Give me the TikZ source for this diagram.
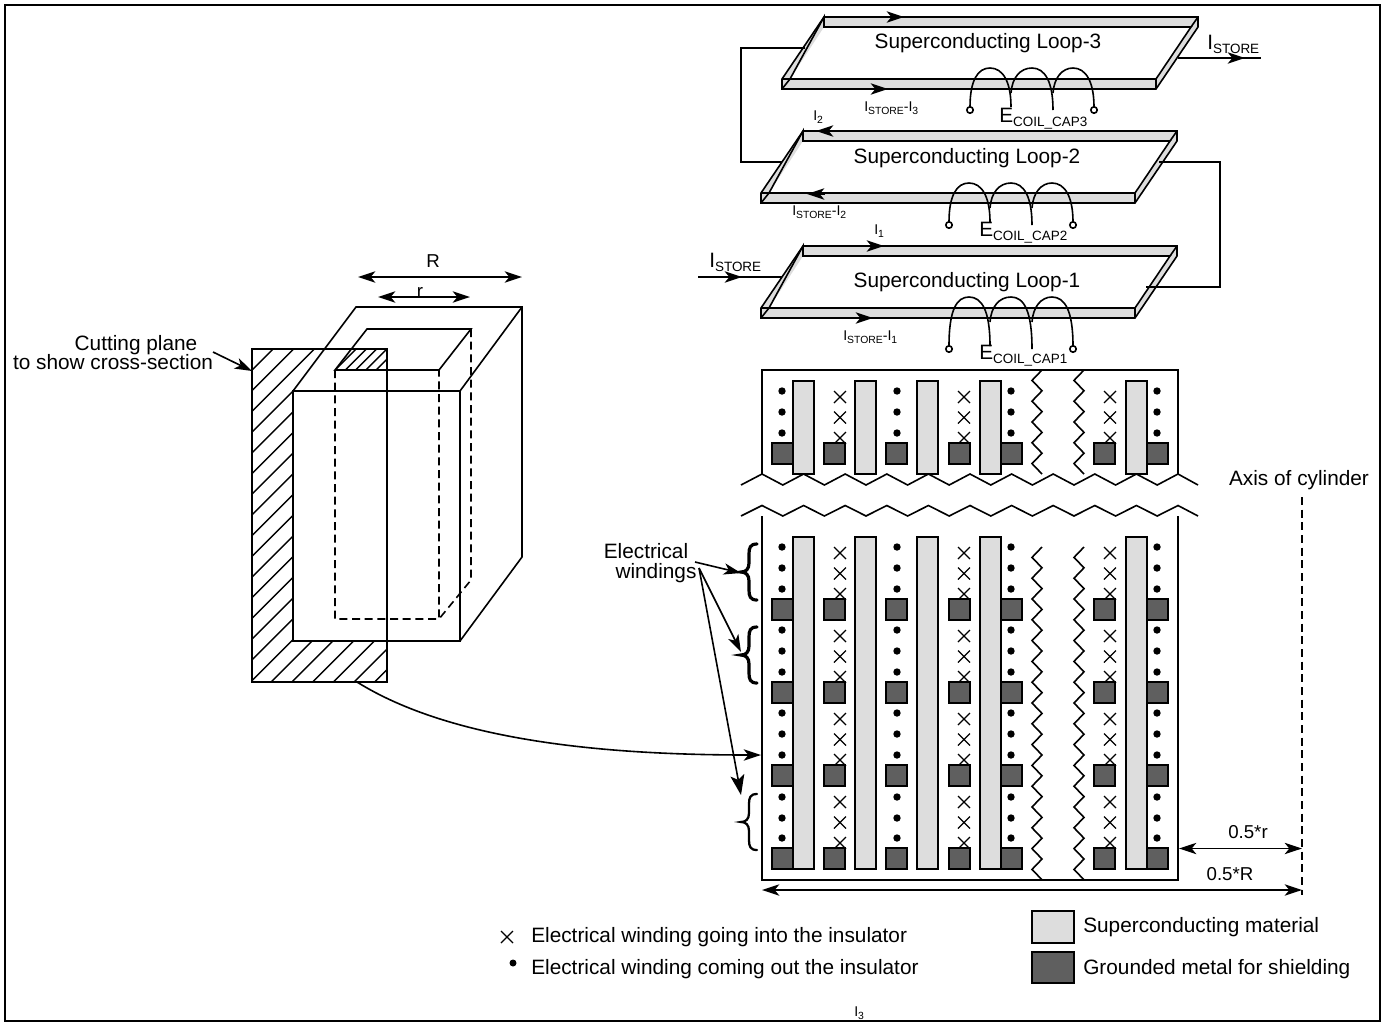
\documentclass[tikz,border=0pt]{standalone}
\usepackage{fontspec}
\setmainfont{Liberation Sans}
\usetikzlibrary{arrows.meta}
\definecolor{sc}{HTML}{DDDDDD}
\definecolor{gm}{HTML}{5F5F5F}
\tikzset{
 ln/.style={line width=1.2pt,line join=miter},
 thin ln/.style={line width=1.05pt},
 arr/.style={ln,-{Stealth[length=13pt,width=8.5pt,inset=3.5pt]}},
 darr/.style={ln,{Stealth[length=13pt,width=8.5pt,inset=3.5pt]}-{Stealth[length=13pt,width=8.5pt,inset=3.5pt]}},
 bigarr/.style={ln,-{Stealth[length=15pt,width=10.5pt,inset=3.5pt]}},
 main/.style={font=\fontsize{15.6pt}{18pt}\selectfont,inner sep=0pt,text height=11pt,text depth=2pt},
 dim/.style={font=\fontsize{14pt}{16pt}\selectfont,inner sep=0pt,text height=11pt,text depth=2pt},
 small/.style={font=\fontsize{10.6pt}{12pt}\selectfont,inner sep=0pt},
 supercon/.style={draw=black,fill=sc,line width=1.05pt},
 metal/.style={draw=black,fill=gm,line width=1.2pt},
 dots/.style={fill=black},
 dashline/.style={ln,dash pattern=on 6pt off 3.5pt},
}
\newcommand{\BigSub}[2]{#1\raisebox{-0.22em}{\fontsize{10.1pt}{12pt}\selectfont #2}}
\newcommand{\SmSub}[1]{\raisebox{-0.25em}{\fontsize{7.8pt}{9pt}\selectfont #1}}
\newcommand{\slab}[2]{%
 \begin{scope}[shift={(#1,#2)}]
  \fill[sc,even odd rule] (824,17)--(1198,17)--(1198,27)--(1156,89)--(782,89)--(782,79)--cycle (824,27)--(1191,27)--(1156,79)--(790,79)--cycle;
  \draw[ln] (824,17)--(1198,17)--(1198,27)--(1156,89)--(782,89)--(782,79)--cycle;
  \draw[ln] (824,17)--(824,27)--(1191,27)--(1156,79)--(790,79)--cycle;
  \draw[ln] (1198,17)--(1191,27) (1156,79)--(1156,89) (790,79)--(782,89) (782,79)--(790,79);
 \end{scope}}
\newcommand{\coil}[3]{% dx dy extra leg
 \begin{scope}[shift={(#1,#2)}]
  \draw[ln] (970,{107+#3}) .. controls (970,80) and (978,68) .. (990,68) .. controls (1003,68) and (1011,82) .. (1011,{107+#3});
  \draw[ln] (1011,93) .. controls (1012,78) and (1020,68) .. (1032,68) .. controls (1045,68) and (1053,82) .. (1053,{110+#3});
  \draw[ln] (1053,93) .. controls (1054,78) and (1062,68) .. (1073,68) .. controls (1086,68) and (1094,82) .. (1094,{107+#3});
  \draw[ln,fill=white] (970,{110+#3}) circle[radius=3.2] (1094,{110+#3}) circle[radius=3.2];
 \end{scope}}
\newcommand{\WBrace}[2]{% y mid, width
 \draw[line width=#2,line cap=round] (757,{#1-28}) .. controls (750,{#1-28}) and (749,{#1-24}) .. (749,{#1-18}) -- (749,{#1-9}) .. controls (749,{#1-3}) and (746,{#1}) .. (741,{#1}) .. controls (746,{#1}) and (749,{#1+3}) .. (749,{#1+9}) -- (749,{#1+18}) .. controls (749,{#1+24}) and (750,{#1+28}) .. (757,{#1+28});}
\begin{document}
\begin{tikzpicture}[x=0.75pt,y=-0.75pt]
\useasboundingbox (0,0) rectangle (1396,1026);
\draw[line width=1.5pt] (5,5) rectangle (1380,1021);

% ---------- left block: hatching
\begin{scope}
 \clip (252,349)--(324.5,349)--(293,391)--(293,641)--(387,641)--(387,682)--(252,682)--cycle;
 \foreach \k in {0,...,22} {\draw[thin ln] ({622+\k*20.7-800},800)--({622+\k*20.7},0);}
\end{scope}
\begin{scope}
 \clip (335,370)--(351.4,349)--(387,349)--(387,370)--cycle;
 \foreach \k in {0,...,6} {\draw[thin ln] ({705+\k*10.3-400},400)--({705+\k*10.3},0);}
\end{scope}
\draw[ln] (252,349) rectangle (387,682);
\draw[ln] (293,391) rectangle (460,641);
\draw[ln] (293,391)--(356,307)--(522,307)--(522,557)--(460,641) (460,391)--(522,307);
\draw[ln] (335,370)--(367,329)--(471,329)--(439,370)--cycle;
\draw[dashline] (335,370)--(335,619)--(439,619)--(439,370) (471,329)--(471,580)--(439,619);
\coordinate (Rl) at (358,277); \coordinate (Rr) at (522,277);
\draw[darr] (Rl)--(Rr);
\coordinate (rl) at (378,297); \coordinate (rr) at (470,297);
\draw[darr] (rl)--(rr);
\node[dim] (lR) at (433,261) {R};
\node[dim] (lr) at (420,291) {r};
\node[main] (cut1) at (136,344) {Cutting plane};
\node[main] (cut2) at (113,363) {to show cross-section};
\coordinate (cuta) at (213,352); \coordinate (cutb) at (252,371);
\draw[arr] (cuta)--(cutb);
\coordinate (curvea) at (357,682); \coordinate (curveb) at (761,755);
\draw[arr] (curvea) .. controls (450,740) and (600,755) .. (curveb);

% ---------- loops
\coordinate (w1a) at (805,48); \coordinate (w1b) at (782,162);
\coordinate (w2a) at (1159,162); \coordinate (w2b) at (1146,287);
\slab{0}{0}\slab{-21}{114}\slab{-21}{229}
\draw[ln] (w1a)--(741,48)--(741,162)--(w1b);
\draw[ln] (w2a)--(1220,162)--(1220,287)--(w2b);
\coordinate (ina) at (698,277); \coordinate (inm) at (742,277); \coordinate (inb) at (782,277);
\draw[ln] (ina)--(inb); \draw[arr] (ina)--(inm);
\coordinate (outa) at (1178,58); \coordinate (outm) at (1245,58); \coordinate (outb) at (1261,58);
\draw[ln] (outa)--(outb); \draw[arr] (outa)--(outm);
\foreach \xa/\xb/\y in {886/904/17,870/888/89,834/816/131,825/807/194,866/884/246,855/873/318}
 {\coordinate (ta) at (\xa,\y); \coordinate (tb) at (\xb,\y); \draw[arr] (ta)--(tb);}
\coil{0}{0}{0}\coil{-21}{115}{0}\coil{-21}{229}{10}
\node[main] (t3) at (988,42) {Superconducting Loop-3};
\node[main] (t2) at (967,157) {Superconducting Loop-2};
\node[main] (t1) at (967,281) {Superconducting Loop-1};
\node[main,anchor=west] (istin) at (709,261) {\BigSub{I}{STORE}};
\node[main,anchor=west] (istout) at (1207,43) {\BigSub{I}{STORE}};
\node[main,anchor=west] (e3) at (999,116) {\BigSub{E}{COIL\_CAP3}};
\node[main,anchor=west] (e2) at (979,230) {\BigSub{E}{COIL\_CAP2}};
\node[main,anchor=west] (e1) at (979,353) {\BigSub{E}{COIL\_CAP1}};
\node[small,anchor=west] (a3) at (864,108) {I\SmSub{STORE}-I\SmSub{3}};
\node[small,anchor=west] (a2) at (792,212) {I\SmSub{STORE}-I\SmSub{2}};
\node[small,anchor=west] (a1) at (843,337) {I\SmSub{STORE}-I\SmSub{1}};
\node[small,anchor=west] (b2) at (813,117) {I\SmSub{2}};
\node[small,anchor=west] (b1) at (874,231) {I\SmSub{1}};
\node[small,anchor=west] (b3) at (854,1013) {I\SmSub{3}};

% ---------- winding box
\draw[ln] (762,474)--(762,370)--(1178,370)--(1178,474);
\draw[ln] (762,516)--(762,880)--(1178,880)--(1178,516);
\foreach \x in {840,964,1110} {
 \foreach \y in {397,417.5,438,553,573.5,594,636,656.5,677,719,739.5,760,802,822.5,843} {
  \draw[line width=1pt] ({\x-6},{\y-6})--({\x+6},{\y+6}) ({\x-6},{\y+6})--({\x+6},{\y-6});
 }}
\foreach \x in {782,897,1011,1157} {
 \foreach \y in {391,412,433,547,568,589,630,651,672,713,734,755,797,818,838} {
  \fill[dots] (\x,\y) circle[radius=3.7];
 }}
\foreach \x in {772,824,886,949,1001,1094,1147} {
 \draw[metal] (\x,443) rectangle ({\x+21},464);
 \foreach \y in {599,682,765,848} {\draw[metal] (\x,\y) rectangle ({\x+21},{\y+21});}
}
\foreach \x in {793,855,917,980,1126} {
 \draw[supercon] (\x,381) rectangle ({\x+21},474);
 \draw[supercon] (\x,537) rectangle ({\x+21},869);
}
% vertical break zigzags
\foreach \xa/\xb in {1042/1032,1084/1074} {
 \draw[ln] (\xa,370) \foreach \k in {1,...,10} {-- ({mod(\k,2)==1 ? \xb : \xa},{370+\k*10.4})};
 \draw[ln] (\xa,547) \foreach \k in {1,...,32} {-- ({mod(\k,2)==1 ? \xb : \xa},{547+\k*10.4})};
}
% horizontal break zigzags
\draw[ln] (741,485) \foreach \k in {0,...,20} {-- ({762+\k*20.8},{mod(\k,2)==1 ? 485 : 474})} -- (1198,485);
\draw[ln] (741,516) \foreach \k in {0,...,20} {-- ({762+\k*20.8},{mod(\k,2)==1 ? 516 : 505.5})} -- (1198,516);

% ---------- windings annotation
\WBrace{572}{2.4pt}
\WBrace{655}{2.4pt}
\WBrace{822}{1.7pt}
\node[main] (ew1) at (646,552) {Electrical};
\node[main] (ew2) at (656,572) {windings};
\coordinate (p1) at (695,562); \coordinate (p1e) at (741,573);
\coordinate (p2) at (699,568); \coordinate (p2e) at (741,652); \coordinate (p3e) at (741,795);
\draw[arr] (p1)--(p1e);
\draw[arr] (p2)--(p2e);
\draw[bigarr] (p2)--(p3e);

% ---------- dimensions
\coordinate (axa) at (1302,497); \coordinate (axb) at (1302,895);
\draw[dashline] (axa)--(axb);
\coordinate (d1a) at (1179,848.5); \coordinate (d1b) at (1302,848.5);
\draw[darr] (d1a)--(d1b);
\coordinate (d2a) at (762,890); \coordinate (d2b) at (1302,890);
\draw[darr] (d2a)--(d2b);
\node[main] (ax) at (1299,479) {Axis of cylinder};
\node[dim] (dr) at (1248,832) {0.5*r};
\node[dim] (dR) at (1230,874) {0.5*R};

% ---------- legend
\draw[line width=1pt] (501,931)--(513,943) (501,943)--(513,931);
\fill[dots] (513,963) circle[radius=3.5];
\node[main,anchor=west] (g1) at (531,936) {Electrical winding going into the insulator};
\node[main,anchor=west] (g2) at (531,968) {Electrical winding coming out the insulator};
\draw[supercon] (1032,911) rectangle (1074,943);
\draw[metal] (1032,952) rectangle (1074,983);
\node[main,anchor=west] (g3) at (1083,926) {Superconducting material};
\node[main,anchor=west] (g4) at (1083,968) {Grounded metal for shielding};
\end{tikzpicture}
\end{document}
